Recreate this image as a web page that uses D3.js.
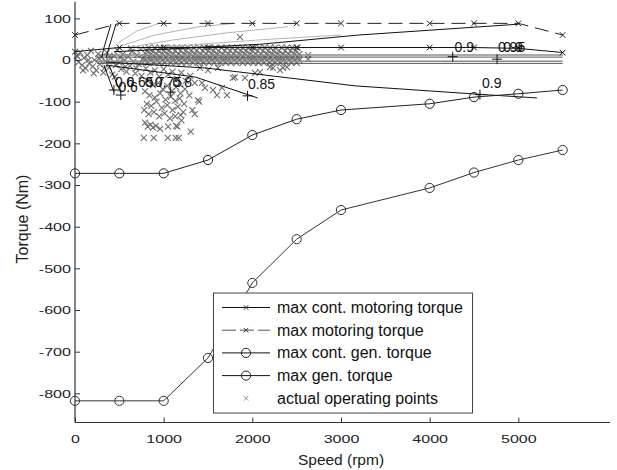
<!DOCTYPE html>
<html>
<head>
<meta charset="utf-8">
<script src="https://cdn.jsdelivr.net/npm/d3@7"></script>
<style>
  body { margin: 0; background: #fff; }
  text { font-family: Arial, "Liberation Sans", sans-serif; }
</style>
</head>
<body>
<script>
const dimensions = { width: 617, height: 470 }

// torque / speed curves
const speeds = [0, 500, 1000, 1500, 2000, 2500, 3000, 4000, 4500, 5000, 5500]
const contMotor = [20, 30, 30, 30, 30, 30, 30, 30, 30, 28, 18]
const maxMotor = [60, 88, 88, 88, 88, 88, 88, 88, 88, 88, 60]
const contGen = [-272, -272, -272, -240, -180, -142, -120, -105, -89, -81, -72]
const maxGen = [-818, -818, -818, -715, -535, -430, -360, -307, -270, -240, -216]

const xTicks = [0, 1000, 2000, 3000, 4000, 5000]
const yTicks = [100, 0, -100, -200, -300, -400, -500, -600, -700, -800]

const legendLabels = ['max cont. motoring torque', 'max motoring torque',
    'max cont. gen. torque', 'max gen. torque', 'actual operating points']

// efficiency contours (speed, torque)
const motor90 = [[440, 20], [1200, 28], [2100, 38], [3200, 60], [5000, 86]]
const gen90 = [[350, -5], [1470, -19], [3160, -62], [4540, -82], [5210, -91]]
const gen85 = [[350, -12], [1360, -41], [2060, -91]]
const low1 = [[300, 5], [326, 29], [405, 86]]
const low2 = [[350, 5], [382, 29], [461, 86]]
const low3 = [[326, -12], [439, -77]]
const low4 = [[382, -12], [517, -79]]
const near1 = [[250, 12], [5500, 12]]
const near2 = [[250, 7], [5500, 7]]
const near3 = [[250, -3], [5500, -3]]
const near4 = [[250, -8], [5500, -8]]
const grey1 = [[480, 40], [700, 70], [950, 88]]
const grey2 = [[520, 34], [900, 60], [1400, 80], [1800, 88]]
const grey3 = [[600, 30], [1100, 48], [1700, 65], [2400, 80]]
const grey4 = [[700, 27], [1400, 38], [2200, 50], [3000, 60]]

const contourMarks = [[439, -72], [517, -84], [1080, -77], [1946, -86], [4567, -83], [4260, 8], [4760, 2]]
const contourLabels = [
    { t: '0.6', s: 450, v: -65 }, { t: '0.65', s: 580, v: -65 }, { t: '0.7', s: 790, v: -65 },
    { t: '0.75', s: 900, v: -65 }, { t: '0.8', s: 1100, v: -65 }, { t: '0.6', s: 490, v: -77 },
    { t: '0.85', s: 1950, v: -70 }, { t: '0.9', s: 4590, v: -68 },
    { t: '0.9', s: 4280, v: 20 }, { t: '0.95', s: 4770, v: 20 }, { t: '0.9', s: 4830, v: 20 }
]

// operating points, dense band rows
const bandRows = [
    { t: 30, s: [830, 900, 960, 1020, 1090, 1150, 1210, 1270, 1340, 1400, 1460, 1520, 1580, 1650, 1710, 1770, 1830, 1890, 1950, 2020, 2080, 2140, 2200, 2260, 2330, 2390, 2450, 2510] },
    { t: 22, s: [810, 870, 940, 1000, 1060, 1130, 1190, 1250, 1310, 1370, 1440, 1500, 1560, 1620, 1690, 1750, 1810, 1870, 1930, 2000, 2060, 2120, 2180, 2240, 2300, 2370, 2430, 2490] },
    { t: 14, s: [800, 860, 920, 990, 1050, 1110, 1170, 1240, 1300, 1360, 1420, 1480, 1550, 1610, 1670, 1730, 1790, 1860, 1920, 1980, 2040, 2100, 2170, 2230, 2290, 2350, 2410, 2480, 2530] },
    { t: 6, s: [780, 850, 910, 970, 1030, 1100, 1160, 1220, 1280, 1350, 1410, 1470, 1530, 1590, 1660, 1720, 1780, 1840, 1900, 1970, 2030, 2090, 2150, 2210, 2280, 2340, 2400, 2460, 2520] },
    { t: -1, s: [790, 850, 920, 980, 1040, 1100, 1170, 1230, 1290, 1350, 1410, 1480, 1540, 1600, 1660, 1720, 1790, 1850, 1910, 1970, 2030, 2100, 2160, 2220, 2280, 2340, 2410, 2470, 2530] },
    { t: -7, s: [820, 890, 950, 1010, 1080, 1140, 1200, 1260, 1330, 1390, 1450, 1510, 1570, 1640, 1700, 1760, 1820, 1890, 1950, 2010, 2070, 2130, 2200, 2260, 2320, 2380, 2440, 2500] }
]
const opPoints = [
    [20, 10], [40, -5], [60, 18], [80, -12], [100, 5], [120, -20], [140, 12], [160, -8], [180, 22], [200, -15],
    [220, 0], [240, -25], [260, 15], [280, -10], [300, 8], [320, -30], [340, -3], [360, 18], [380, -18], [400, 4],
    [420, -35], [440, 10], [460, -12], [480, 24], [500, -6], [520, -22], [540, 14], [560, 0], [580, -28], [600, 8],
    [620, -14], [640, 20], [660, -4], [680, -32], [700, 12], [720, -10], [740, 26], [760, 2], [30, 8], [90, -25],
    [150, 0], [210, -32], [270, 4], [330, -20], [390, 10], [450, -40], [510, 6], [570, -16], [630, 28], [690, -20],
    [750, -38],
    [800, -20], [850, -30], [900, -25], [950, -40], [1000, -22], [1050, -35], [1100, -28], [1150, -45], [1200, -30],
    [1250, -50], [1300, -38], [1350, -55], [820, -50], [880, -60], [940, -55], [990, -70], [1040, -62], [1090, -75],
    [1140, -65], [1190, -80], [1240, -70], [1290, -85], [790, -75], [840, -85], [900, -90], [960, -80], [1020, -95],
    [1080, -88], [1130, -98], [1180, -92], [1230, -105], [810, -105], [860, -110], [920, -100], [980, -115],
    [1040, -108], [1100, -120], [1160, -112], [1220, -125], [780, -120], [830, -130], [890, -125], [950, -135],
    [1010, -128], [1070, -140], [1130, -135], [1200, -145], [790, -150], [820, -160], [850, -155], [880, -162],
    [910, -158], [960, -165], [1050, -160], [1140, -158], [1305, -172], [776, -187], [888, -187], [1046, -187],
    [1136, -187], [1170, -187], [1324, -120], [1192, -132], [1155, -160], [1350, -130], [1400, -100],
    [1410, -19], [1500, -24], [1613, -19], [1804, -41], [1917, -43], [2030, -31], [2086, -29], [2233, -19],
    [2312, -24], [2346, -19], [1861, 55], [1432, -55], [1466, -67], [1556, -72], [1658, -67], [1714, -84],
    [1601, -84], [1387, -96], [1782, -43], [2391, -17], [2199, -17], [2630, 12], [2630, 2]
]

const svg = d3.select('body').append('svg')
    .attr('width', dimensions.width)
    .attr('height', dimensions.height)

const x = d3.scaleLinear().domain([0, 6000]).range([75, 607])
const y = d3.scaleLinear().domain([-870, 140]).range([422.5, 1.7])

const line = d3.line().x(d => x(d[0])).y(d => y(d[1]))
const cross = (s) => `M${-s},${-s}L${s},${s}M${-s},${s}L${s},${-s}`

// operating points
const allPoints = opPoints.slice()
bandRows.forEach(r => r.s.forEach(s => allPoints.push([s, r.t])))

svg.append('g').selectAll('path')
    .data(allPoints)
    .enter()
    .append('path')
    .attr('transform', d => `translate(${x(d[0])},${y(d[1])})`)
    .attr('d', cross(3))
    .attr('stroke', '#6e6e6e')
    .attr('stroke-width', 1.1)
    .attr('fill', 'none')

// contours
const g = svg.append('g').attr('fill', 'none')
;[grey1, grey2, grey3, grey4].forEach(c => {
    g.append('path').attr('d', line(c)).attr('stroke', '#b4b4b4').attr('stroke-width', 1)
})
;[near1, near3].forEach(c => {
    g.append('path').attr('d', line(c)).attr('stroke', '#8c8c8c').attr('stroke-width', 1.6)
})
;[near2, near4].forEach(c => {
    g.append('path').attr('d', line(c)).attr('stroke', '#555').attr('stroke-width', 1)
})
;[motor90, gen90, gen85, low1, low2, low3, low4].forEach(c => {
    g.append('path').attr('d', line(c)).attr('stroke', '#111').attr('stroke-width', 1)
})
g.selectAll('.cm')
    .data(contourMarks)
    .enter()
    .append('path')
    .attr('transform', d => `translate(${x(d[0])},${y(d[1])})`)
    .attr('d', 'M-5,0L5,0M0,-5L0,5')
    .attr('stroke', '#111')

svg.append('g').selectAll('text')
    .data(contourLabels)
    .enter()
    .append('text')
    .attr('x', d => x(d.s))
    .attr('y', d => y(d.v))
    .attr('font-size', 14)
    .attr('fill', '#111')
    .text(d => d.t)

// torque curves
const series = [
    { v: maxMotor, dash: '14,7', mark: 'x', col: '#222' },
    { v: contMotor, dash: null, mark: 'x', col: '#111' },
    { v: contGen, dash: null, mark: 'o', col: '#222' },
    { v: maxGen, dash: null, mark: 'o', col: '#333' }
]
series.forEach(s => {
    const pts = speeds.map((sp, i) => [sp, s.v[i]])
    svg.append('path')
        .attr('d', line(pts))
        .attr('fill', 'none')
        .attr('stroke', s.col)
        .attr('stroke-width', 1)
        .attr('stroke-dasharray', s.dash)
    const m = svg.append('g').selectAll('path').data(pts).enter()
    if (s.mark === 'x') {
        m.append('path')
            .attr('transform', d => `translate(${x(d[0])},${y(d[1])})`)
            .attr('d', cross(2.8))
            .attr('stroke', s.col)
            .attr('fill', 'none')
    } else {
        m.append('circle')
            .attr('cx', d => x(d[0]))
            .attr('cy', d => y(d[1]))
            .attr('r', 4.6)
            .attr('stroke', s.col)
            .attr('fill', 'none')
    }
})

// axes
const digitW = (t) => t.replace('-', '').length * 8.9 + (t[0] === '-' ? 5.5 : 0)
const fmt = d => String(d)

const xAxis = svg.append('g')
    .attr('transform', `translate(0,${y(-870)})`)
    .call(d3.axisBottom(x).tickValues(xTicks).tickFormat(fmt).tickSize(-5).tickPadding(12).tickSizeOuter(0))
xAxis.select('.domain').attr('stroke', '#333').attr('stroke-width', 1.2).attr('d', `M75,0H610`)
xAxis.selectAll('line').attr('stroke', '#333')
xAxis.selectAll('text')
    .attr('font-size', 11.5)
    .attr('fill', '#222')
    .attr('textLength', d => digitW(String(d)))
    .attr('lengthAdjust', 'spacingAndGlyphs')

const yAxis = svg.append('g')
    .attr('transform', `translate(${x(0)},0)`)
    .call(d3.axisLeft(y).tickValues(yTicks).tickFormat(fmt).tickSize(-5).tickPadding(4).tickSizeOuter(0))
yAxis.select('.domain').attr('stroke', '#333').attr('stroke-width', 1.2).attr('d', `M0,${y(140)}V${y(-870)}`)
yAxis.selectAll('line').attr('stroke', '#333')
yAxis.selectAll('text')
    .attr('font-size', 11.5)
    .attr('fill', '#222')
    .attr('textLength', d => digitW(String(d)))
    .attr('lengthAdjust', 'spacingAndGlyphs')

svg.append('text')
    .attr('x', x(3000))
    .attr('y', 465)
    .attr('text-anchor', 'middle')
    .attr('font-size', 15.5)
    .attr('fill', '#222')
    .text('Speed (rpm)')

svg.append('text')
    .attr('transform', 'translate(28,219) rotate(-90)')
    .attr('text-anchor', 'middle')
    .attr('font-size', 16)
    .attr('fill', '#222')
    .text('Torque (Nm)')

// legend
const lg = svg.append('g')
lg.append('rect')
    .attr('x', 213.5).attr('y', 293)
    .attr('width', 259).attr('height', 120)
    .attr('fill', '#fff')
    .attr('stroke', '#444')

legendLabels.forEach((t, i) => {
    const cy = 307.5 + i * 22.7
    if (i < 4) {
        lg.append('line')
            .attr('x1', 222).attr('x2', 270)
            .attr('y1', cy).attr('y2', cy)
            .attr('stroke', i === 1 ? '#555' : '#111')
            .attr('stroke-dasharray', i === 1 ? '14,4' : null)
    }
    if (i === 2 || i === 3) {
        lg.append('circle').attr('cx', 246).attr('cy', cy).attr('r', 4.6)
            .attr('fill', 'none').attr('stroke', '#222')
    } else {
        lg.append('path')
            .attr('transform', `translate(246,${cy})`)
            .attr('d', cross(2.3))
            .attr('stroke', i === 4 ? '#909090' : '#333')
    }
    lg.append('text')
        .attr('x', 277)
        .attr('y', cy + 5.5)
        .attr('font-size', 16)
        .attr('fill', '#111')
        .text(t)
})
</script>
</body>
</html>
